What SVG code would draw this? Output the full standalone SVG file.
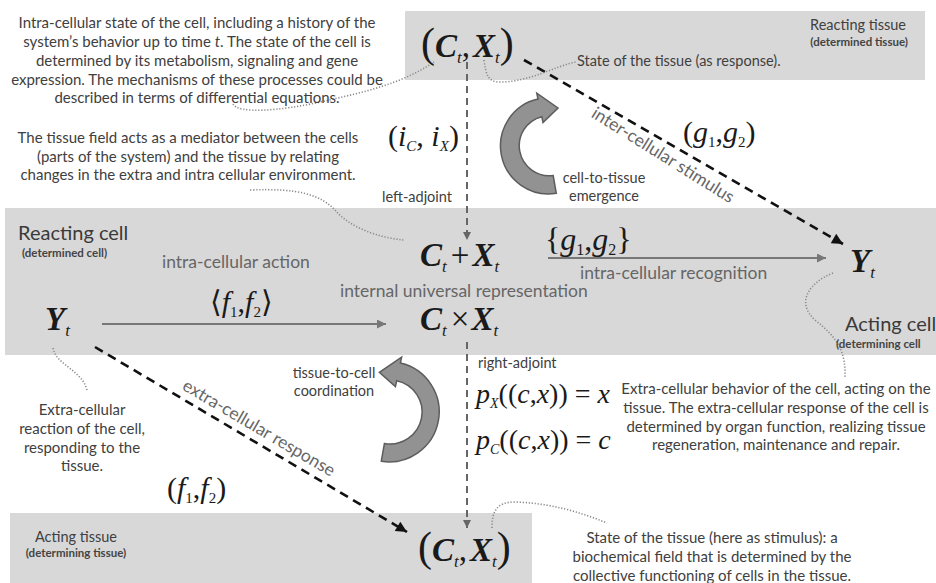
<svg xmlns="http://www.w3.org/2000/svg" width="936" height="583" viewBox="0 0 936 583">
<defs>
<style>
.band{fill:#d8d8d8}
.p{font-family:Lato,"Liberation Sans",sans-serif;font-size:15px;fill:#404040;text-anchor:middle}
.lb{font-family:Lato,"Liberation Sans",sans-serif;font-size:14.5px;fill:#404040}
.big{font-family:Lato,"Liberation Sans",sans-serif;font-size:17.5px;fill:#666}
.ttl{font-family:Lato,"Liberation Sans",sans-serif;font-size:20px;fill:#3a3a3a}
.sub{font-family:Lato,"Liberation Sans",sans-serif;font-size:11.5px;font-weight:bold;fill:#444}
.m{font-family:"Liberation Serif","DejaVu Serif",serif;fill:#1a1a1a}
.v{font-style:italic;font-weight:bold}
.i{font-style:italic}
.dot{fill:none;stroke:#8a8a8a;stroke-width:1.6;stroke-dasharray:1.2 1.8}
.dash{fill:none;stroke:#111;stroke-width:2.6;stroke-dasharray:9 6}
.vdash{fill:none;stroke:#666;stroke-width:2;stroke-dasharray:7 5}
.harr{fill:none;stroke:#777;stroke-width:2}
.carr{fill:#929292;stroke:#5c5c5c;stroke-width:1.5}
</style>
<marker id="ahK" viewBox="0 0 10 10" refX="10" refY="5" markerWidth="13" markerHeight="11" orient="auto" markerUnits="userSpaceOnUse"><path d="M0,0 L10,5 L0,10 Z" fill="#111"/></marker>
<marker id="ahG" viewBox="0 0 10 10" refX="10" refY="5" markerWidth="9" markerHeight="8" orient="auto" markerUnits="userSpaceOnUse"><path d="M0,0 L10,5 L0,10 Z" fill="#666"/></marker>
<marker id="ahH" viewBox="0 0 10 10" refX="10" refY="5" markerWidth="12" markerHeight="9" orient="auto" markerUnits="userSpaceOnUse"><path d="M0,0 L10,5 L0,10 Z" fill="#777"/></marker>
</defs>
<rect width="936" height="583" fill="#fff"/>

<g id="bands">
<rect class="band" x="405" y="11" width="520" height="69"/>
<rect class="band" x="5" y="208" width="931" height="147"/>
<rect class="band" x="10" y="513" width="522" height="70"/>
</g>

<g id="connectors">
<line class="vdash" x1="467" y1="62" x2="467" y2="240" marker-end="url(#ahG)"/>
<line class="vdash" x1="467" y1="342" x2="467" y2="528" marker-end="url(#ahG)"/>
<line class="dash" x1="524" y1="60" x2="843" y2="244" marker-end="url(#ahK)"/>
<line class="dash" x1="95" y1="347" x2="407" y2="532" marker-end="url(#ahK)"/>
<line class="harr" x1="102" y1="324" x2="386" y2="324" marker-end="url(#ahH)"/>
<line class="harr" x1="548" y1="258" x2="826" y2="258" marker-end="url(#ahH)"/>
<path class="dot" d="M233,104 C238,114 280,111 320,102 C360,93 400,85 434,62"/>
<path class="dot" d="M484,60 C486,75 488,82 500,82 C530,82 555,66 576,62"/>
<path class="dot" d="M250,190 C300,188 320,195 335,210 C350,228 380,238 404,240"/>
<path class="dot" d="M833,273 C808,283 796,303 815,320 C838,338 846,352 845,378"/>
<path class="dot" d="M53,348 C56,365 82,370 87,390"/>
<path class="dot" d="M492,528 C492,512 496,502 515,502 C550,503 580,512 607,523"/>
<path class="carr" d="M556.3,193.3 A48,48 0 0 1 538,99.1 L536.8,93.2 L558,108 L543,122.5 L541.8,116.7 A30,30 0 0 0 553.2,175.5 Z"/>
<path class="carr" d="M381.3,461.2 A50,50 0 0 0 400.4,363.1 L401.6,357.2 L379.4,372.4 L395.4,386.6 L396.7,380.7 A32,32 0 0 1 384.4,443.5 Z"/>
<text class="big" transform="translate(660,160) rotate(32)" text-anchor="middle">inter-cellular stimulus</text>
<text class="big" transform="translate(256,433) rotate(30.5)" text-anchor="middle">extra-cellular response</text>
<text class="big" x="162" y="268">intra-cellular action</text>
<text class="big" x="580" y="279">intra-cellular recognition</text>
<text class="big" x="340" y="297">internal universal representation</text>
<text class="lb" x="452" y="202" text-anchor="end">left-adjoint</text>
<text class="lb" x="478" y="368">right-adjoint</text>
<text class="lb" x="604" y="183" text-anchor="middle" fill="#333">cell-to-tissue</text>
<text class="lb" x="604" y="201" text-anchor="middle" fill="#333">emergence</text>
<text class="lb" x="334" y="378" text-anchor="middle" fill="#333">tissue-to-cell</text>
<text class="lb" x="334" y="396" text-anchor="middle" fill="#333">coordination</text>
<text class="m" x="388" y="146" font-size="30">(<tspan class="i">i</tspan><tspan class="i" font-size="15" dy="5">C</tspan><tspan dy="-5">, </tspan><tspan class="i">i</tspan><tspan class="i" font-size="15" dy="5">X</tspan><tspan dy="-5">)</tspan></text>
<text class="m" x="683" y="142" font-size="30">(<tspan class="i">g</tspan><tspan font-size="15" dy="5">1</tspan><tspan dy="-5">,</tspan><tspan class="i">g</tspan><tspan font-size="15" dy="5">2</tspan><tspan dy="-5">)</tspan></text>
<text class="m" x="545" y="250" font-size="32">{<tspan class="i">g</tspan><tspan font-size="16" dy="5">1</tspan><tspan dy="-5">,</tspan><tspan class="i">g</tspan><tspan font-size="16" dy="5">2</tspan><tspan dy="-5">}</tspan></text>
<text class="m" x="210" y="312" font-size="30">⟨<tspan class="i">f</tspan><tspan font-size="15" dy="5">1</tspan><tspan dy="-5">,</tspan><tspan class="i">f</tspan><tspan font-size="15" dy="5">2</tspan><tspan dy="-5">⟩</tspan></text>
<text class="m" x="167" y="498" font-size="30">(<tspan class="i">f</tspan><tspan font-size="15" dy="5">1</tspan><tspan dy="-5">,</tspan><tspan class="i">f</tspan><tspan font-size="15" dy="5">2</tspan><tspan dy="-5">)</tspan></text>
<text class="m" x="476" y="403" font-size="28"><tspan class="i">p</tspan><tspan class="i" font-size="14" dy="5">X</tspan><tspan dy="-5">((</tspan><tspan class="i">c</tspan>,<tspan class="i">x</tspan>)) = <tspan class="i">x</tspan></text>
<text class="m" x="476" y="449" font-size="28"><tspan class="i">p</tspan><tspan class="i" font-size="14" dy="5">C</tspan><tspan dy="-5">((</tspan><tspan class="i">c</tspan>,<tspan class="i">x</tspan>)) = <tspan class="i">c</tspan></text>
</g>

<g id="node-top-tissue">
<text class="m" x="421" y="57" font-size="33"><tspan font-size="42">(</tspan><tspan class="v">C</tspan><tspan class="i" font-size="17" dy="6">t</tspan><tspan dy="-6">,</tspan><tspan class="v" dx="3">X</tspan><tspan class="i" font-size="17" dy="6">t</tspan><tspan font-size="42" dy="-6">)</tspan></text>
<text class="lb" x="906" y="30" text-anchor="end" font-size="15" fill="#3a3a3a">Reacting tissue</text>
<text class="sub" x="908" y="46" text-anchor="end">(determined tissue)</text>
<text class="lb" x="577" y="66">State of the tissue (as response).</text>
</g>

<g id="node-coproduct">
<text class="m" x="420" y="266" font-size="33"><tspan class="v">C</tspan><tspan class="i" font-size="17" dy="6">t</tspan><tspan dy="-6" dx="4">+</tspan><tspan class="v" dx="3">X</tspan><tspan class="i" font-size="17" dy="6">t</tspan></text>
</g>

<g id="node-product">
<text class="m" x="420" y="330" font-size="33"><tspan class="v">C</tspan><tspan class="i" font-size="17" dy="6">t</tspan><tspan dy="-6" dx="4">×</tspan><tspan class="v" dx="2">X</tspan><tspan class="i" font-size="17" dy="6">t</tspan></text>
</g>

<g id="node-reacting-cell">
<text class="ttl" x="18" y="240">Reacting cell</text>
<text class="sub" x="22" y="257">(determined cell)</text>
<text class="m" x="45" y="330" font-size="33"><tspan class="v">Y</tspan><tspan class="i" font-size="17" dy="6">t</tspan></text>
</g>

<g id="node-acting-cell">
<text class="m" x="850" y="272" font-size="33"><tspan class="v">Y</tspan><tspan class="i" font-size="17" dy="6">t</tspan></text>
<text class="ttl" x="845" y="331">Acting cell</text>
<text class="sub" x="836" y="348">(determining cell</text>
</g>

<g id="node-bottom-tissue">
<text class="m" x="418" y="561" font-size="33"><tspan font-size="42">(</tspan><tspan class="v">C</tspan><tspan class="i" font-size="17" dy="6">t</tspan><tspan dy="-6">,</tspan><tspan class="v" dx="3">X</tspan><tspan class="i" font-size="17" dy="6">t</tspan><tspan font-size="42" dy="-6">)</tspan></text>
<text class="lb" x="76" y="542" text-anchor="middle" font-size="17" fill="#3a3a3a">Acting tissue</text>
<text class="sub" x="76" y="557" text-anchor="middle">(determining tissue)</text>
</g>

<g id="note-intracellular">
<text class="p" x="197" y="28">Intra-cellular state of the cell, including a history of the</text>
<text class="p" x="197" y="47">system’s behavior up to time <tspan font-style="italic">t</tspan>. The state of the cell is</text>
<text class="p" x="197" y="66">determined by its metabolism, signaling and gene</text>
<text class="p" x="197" y="85">expression. The mechanisms of these processes could be</text>
<text class="p" x="197" y="103">described in terms of differential equations.</text>
</g>

<g id="note-field">
<text class="p" x="188" y="143">The tissue field acts as a mediator between the cells</text>
<text class="p" x="188" y="162">(parts of the system) and the tissue by relating</text>
<text class="p" x="188" y="180">changes in the extra and intra cellular environment.</text>
</g>

<g id="note-reaction">
<text class="p" x="82" y="415">Extra-cellular</text>
<text class="p" x="82" y="434">reaction of the cell,</text>
<text class="p" x="82" y="453">responding to the</text>
<text class="p" x="82" y="471">tissue.</text>
</g>

<g id="note-behavior">
<text class="p" x="776" y="394">Extra-cellular behavior of the cell, acting on the</text>
<text class="p" x="776" y="413">tissue. The extra-cellular response of the cell is</text>
<text class="p" x="776" y="432">determined by organ function, realizing tissue</text>
<text class="p" x="776" y="450">regeneration, maintenance and repair.</text>
</g>

<g id="note-stimulus">
<text class="p" x="712" y="543">State of the tissue (here as stimulus): a</text>
<text class="p" x="712" y="562">biochemical field that is determined by the</text>
<text class="p" x="712" y="581">collective functioning of cells in the tissue.</text>
</g>
</svg>
